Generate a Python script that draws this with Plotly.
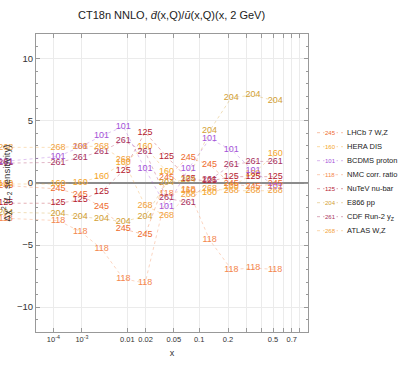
import plotly.graph_objects as go

# ---------------- data ----------------
x_points = [1e-12, 1.6e-4, 9.0e-4, 3.1e-3, 8.5e-3, 0.0197, 0.040, 0.075, 0.13, 0.215, 0.34, 0.52]

lhcb_245 = [-0.2, -0.48, -0.94, -1.95, -3.7, -4.18, 0.45, 2.06, 1.47, -0.1, -0.27, -0.08]
hera_160 = [-0.08, -0.08, 0.05, 0.54, 1.6, 2.92, 0.91, -0.6, -0.8, -0.3, 0.75, 2.33]
bcdms_101 = [1.75, 2.14, 2.9, 3.8, 4.55, 1.12, -1.95, 1.12, 3.55, 2.68, 1.0, -0.27]
nmc_118 = [-2.84, -3.03, -3.9, -5.3, -7.71, -8.06, -0.88, -0.55, -4.58, -6.96, -6.85, -6.96]
nutev_125 = [-1.63, -1.63, -1.37, -0.7, 1.0, 4.07, 2.14, 0.32, 0.15, 0.51, 0.51, 0.51]
e866_204 = [-2.36, -2.44, -2.7, -2.9, -3.1, -2.68, 0.0, 0.3, 4.2, 6.88, 7.07, 6.61]
cdf_261 = [1.6, 1.66, 2.06, 2.55, 3.4, 2.52, -1.2, -1.6, 0.25, 1.45, 1.74, 1.74]
atlas_268 = [2.87, 2.87, 2.95, 2.95, 1.87, -1.82, -2.65, -0.95, -0.46, -0.62, -0.62, -0.62]

series_ids = ["245", "160", "101", "118", "125", "204", "261", "268"]
series_names = ["LHCb 7 W,Z", "HERA DIS", "BCDMS proton", "NMC corr. ratio",
                "NuTeV nu-bar", "E866 pp", "CDF Run-2 y<sub>Z</sub>", "ATLAS W,Z"]
series_values = [lhcb_245, hera_160, bcdms_101, nmc_118, nutev_125, e866_204, cdf_261, atlas_268]
series_rgb = [(238, 106, 44), (244, 165, 42), (164, 82, 216), (244, 135, 78),
              (181, 32, 47), (210, 160, 52), (168, 50, 94), (242, 162, 60)]

x_tick_values = [1e-4, 1e-3, 0.01, 0.02, 0.05, 0.1, 0.2, 0.3, 0.4, 0.5, 0.6, 0.7, 0.8]
x_tick_labels = ["10<sup>-4</sup>", "10<sup>-3</sup>", "0.01", "0.02", "0.05", "0.1", "0.2",
                 "", "", "0.5", "", "0.7", ""]
y_tick_values = [-10, -5, 0, 5, 10]
y_tick_labels = ["\u221210", "\u22125", "0", "5", "10"]

POWER = 0.2  # x-axis scale: x^0.2


def scale(v):
    return v ** POWER


def rgba(c, a):
    return "rgba(%d,%d,%d,%.2f)" % (c[0], c[1], c[2], a)


FONT = "Liberation Sans, Arial, Helvetica, sans-serif"

# geometry (pixels)
PAGE_W, PAGE_H = 399, 366
L, R, T, B = 36, 308, 34, 332          # visible frame
U_LEFT, U_RIGHT = 0.1024, 0.9838       # frame range in scaled units
PX_PER_U = (R - L) / (U_RIGHT - U_LEFT)
U_DATA_LEFT = U_LEFT - L / PX_PER_U    # data layer reaches the page's left edge

fig = go.Figure()

# empty trace so the framed subplot (axes, grid, ticks) is drawn
fig.add_trace(go.Scatter(x=[], y=[], xaxis="x", yaxis="y", mode="lines",
                         showlegend=False, hoverinfo="skip"))

# data layer (extends to the page's left edge so lines are not cut at the frame)
for sid, vals, c in zip(series_ids, series_values, series_rgb):
    fig.add_trace(go.Scatter(
        x=[scale(v) for v in x_points], y=vals,
        xaxis="x2", yaxis="y2",
        mode="lines+text", text=[sid] * len(vals),
        textposition="middle center",
        textfont=dict(family=FONT, size=9, color=rgba(c, 1)),
        line=dict(color=rgba(c, 0.5), width=0.7, dash="dot"),
        cliponaxis=False, showlegend=False, hoverinfo="skip",
    ))


def px_to_paper_x(p):
    return p / R


def px_to_paper_y(p):
    return (B - p) / (B - T)


shapes = []
annotations = []
for i, (sid, name, c) in enumerate(zip(series_ids, series_names, series_rgb)):
    yp = px_to_paper_y(132.7 + 14 * i)
    shapes.append(dict(type="line", xref="paper", yref="paper",
                       x0=px_to_paper_x(317), x1=px_to_paper_x(343), y0=yp, y1=yp,
                       line=dict(color=rgba(c, 0.6), width=0.7, dash="dot")))
    annotations.append(dict(xref="paper", yref="paper", x=px_to_paper_x(330), y=yp,
                            text=sid, showarrow=False, xanchor="center", yanchor="middle",
                            font=dict(family=FONT, size=6, color=rgba(c, 1)), bgcolor="white",
                            borderpad=0))
    annotations.append(dict(xref="paper", yref="paper", x=px_to_paper_x(346), y=yp,
                            text=name, showarrow=False, xanchor="left", yanchor="middle",
                            font=dict(family=FONT, size=7.5, color="#222"), borderpad=0))

fig.update_layout(
    width=PAGE_W, height=PAGE_H,
    margin=dict(l=0, r=PAGE_W - R, t=T, b=PAGE_H - B, autoexpand=False),
    paper_bgcolor="white", plot_bgcolor="rgba(0,0,0,0)",
    title=dict(text="CT18n NNLO, <i>d\u0304</i>(x,Q)/<i>u\u0304</i>(x,Q)(x, 2 GeV)",
               x=0.43, xanchor="center", y=1 - 15 / PAGE_H, yanchor="middle",
               font=dict(family=FONT, size=11, color="#222")),
    shapes=shapes, annotations=annotations,
    # visible frame axes
    xaxis=dict(domain=[L / R, 1], anchor="y",
               range=[U_LEFT, U_RIGHT], tickvals=[scale(v) for v in x_tick_values],
               ticktext=x_tick_labels, ticks="inside", ticklen=4, tickcolor="#999",
               tickangle=0, automargin=False, fixedrange=True,
               showline=True, linecolor="#999", linewidth=1, mirror="allticks",
               showgrid=True, gridcolor="#EBEBEB", gridwidth=1, zeroline=False,
               tickfont=dict(family=FONT, size=7.5, color="#333"),
               title=dict(text="x", font=dict(family=FONT, size=9, color="#333"), standoff=6)),
    yaxis=dict(domain=[0, 1], anchor="x",
               range=[-12, 12], tickvals=y_tick_values, ticktext=y_tick_labels,
               ticks="inside", ticklen=4, tickcolor="#999", automargin=False, fixedrange=True,
               minor=dict(dtick=1, ticks="inside", ticklen=2, tickcolor="#999", showgrid=False),
               showline=True, linecolor="#999", linewidth=1, mirror="allticks",
               showgrid=True, gridcolor="#EBEBEB", gridwidth=1,
               zeroline=True, zerolinecolor="#8C8C8C", zerolinewidth=1.5,
               tickfont=dict(family=FONT, size=9.5, color="#333"),
               title=dict(text="\u0394\u03c7<sup>2</sup> (<i>L</i><sub>2</sub> sensitivity)",
                          font=dict(family=FONT, size=9.5, color="#333"), standoff=4)),
    # data layer axes (same scales, hidden)
    xaxis2=dict(domain=[0, 1], anchor="y2", range=[U_DATA_LEFT, U_RIGHT],
                visible=False, fixedrange=True),
    yaxis2=dict(domain=[0, 1], anchor="x2", range=[-12, 12], visible=False, fixedrange=True),
)

fig.write_html("out.html",
               config={"displayModeBar": False, "staticPlot": True},
               post_script="document.body.style.margin='0px';document.body.style.padding='0px';")
